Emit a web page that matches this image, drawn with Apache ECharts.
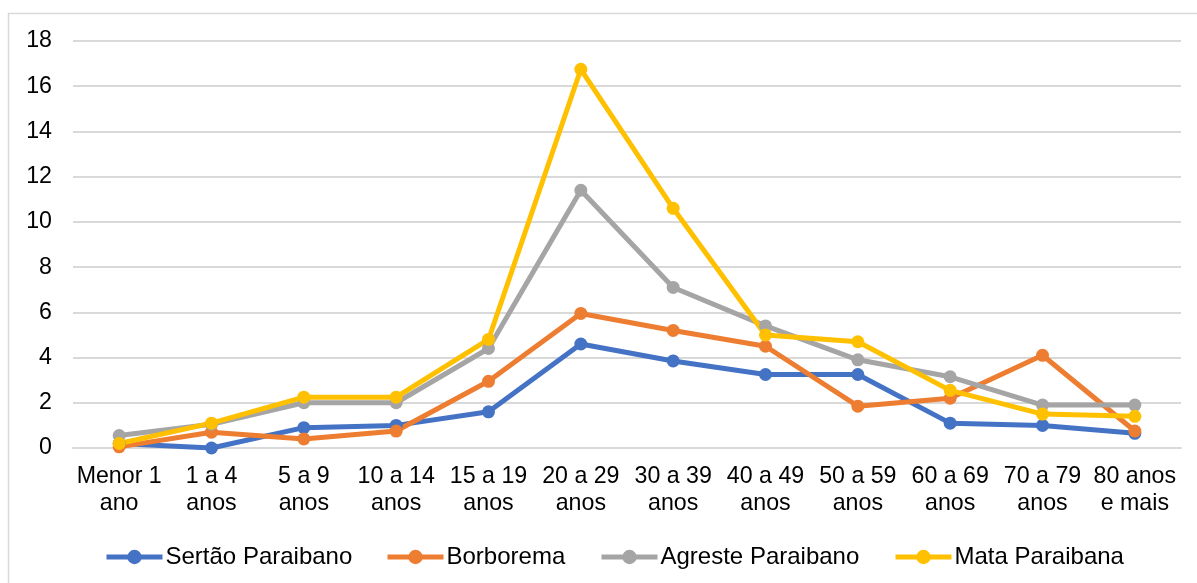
<!DOCTYPE html>
<html>
<head>
<meta charset="utf-8">
<script src="https://cdn.jsdelivr.net/npm/echarts@6/dist/echarts.min.js"></script>
<style>
  html, body { margin: 0; padding: 0; background: #fff; }
  #chart { width: 1197px; height: 583px; }
</style>
</head>
<body>
<div id="chart"></div>
<script>
// Age groups (two-line labels)
const categories = [
  'Menor 1\nano', '1 a 4\nanos', '5 a 9\nanos', '10 a 14\nanos', '15 a 19\nanos',
  '20 a 29\nanos', '30 a 39\nanos', '40 a 49\nanos', '50 a 59\nanos',
  '60 a 69\nanos', '70 a 79\nanos', '80 anos\ne mais'
];

const sertaoParaibano  = [0.2, 0.0, 0.9, 1.0, 1.6, 4.6, 3.85, 3.25, 3.25, 1.1, 1.0, 0.65];
const borborema        = [0.05, 0.7, 0.4, 0.75, 2.95, 5.95, 5.2, 4.5, 1.85, 2.2, 4.1, 0.75];
const agresteParaibano = [0.55, 1.05, 2.0, 2.0, 4.4, 11.4, 7.1, 5.4, 3.9, 3.15, 1.9, 1.9];
const mataParaibana    = [0.2, 1.1, 2.25, 2.25, 4.8, 16.75, 10.6, 5.0, 4.7, 2.55, 1.5, 1.4];

const yTicks = { min: 0, max: 18, interval: 2 };

const seriesDefs = [
  { name: 'Sertão Paraibano', data: sertaoParaibano, color: '#4472C4' },
  { name: 'Borborema', data: borborema, color: '#ED7D31' },
  { name: 'Agreste Paraibano', data: agresteParaibano, color: '#A5A5A5' },
  { name: 'Mata Paraibana', data: mataParaibana, color: '#FFC000' }
];

const font = 'Liberation Sans, Arial, sans-serif';
const fs = 23.2;

// one legend entry per series so each sits at its own left offset
const legendLefts = [104, 385, 599, 893];
const legends = seriesDefs.map((s, i) => ({
  left: legendLefts[i],
  top: 545,
  padding: 0,
  itemWidth: 56,
  itemHeight: 18,
  lineStyle: { width: 5 },
  textStyle: { fontFamily: font, fontSize: 24, color: '#000', padding: [0, 0, 0, -2] },
  data: [s.name]
}));

const chart = echarts.init(document.getElementById('chart'), null, { renderer: 'canvas' });
chart.setOption({
  animation: false,
  backgroundColor: '#fff',
  textStyle: { fontFamily: font },
  graphic: [{
    type: 'rect',
    shape: { x: 8.5, y: 13.5, width: 1200, height: 600 },
    style: { fill: 'none', stroke: '#D9D9D9', lineWidth: 1.5 },
    silent: true
  }],
  grid: { left: 73, right: 16, top: 41, bottom: 135, containLabel: false },
  legend: legends,
  xAxis: {
    type: 'category',
    data: categories,
    boundaryGap: true,
    axisLine: { show: true, lineStyle: { color: '#D9D9D9', width: 2 } },
    axisTick: { show: false },
    axisLabel: {
      interval: 0,
      margin: 15,
      fontFamily: font,
      fontSize: fs,
      lineHeight: 27,
      color: '#000'
    }
  },
  yAxis: {
    type: 'value',
    min: yTicks.min,
    max: yTicks.max,
    interval: yTicks.interval,
    axisLine: { show: false },
    axisTick: { show: false },
    splitLine: { lineStyle: { color: '#D9D9D9', width: 2 } },
    axisLabel: { margin: 21, fontFamily: font, fontSize: fs, color: '#000' }
  },
  series: seriesDefs.map(s => ({
    name: s.name,
    type: 'line',
    data: s.data,
    symbol: 'circle',
    symbolSize: 13,
    showSymbol: true,
    lineStyle: { color: s.color, width: 5 },
    itemStyle: { color: s.color },
    emphasis: { disabled: true }
  }))
});
</script>
</body>
</html>
